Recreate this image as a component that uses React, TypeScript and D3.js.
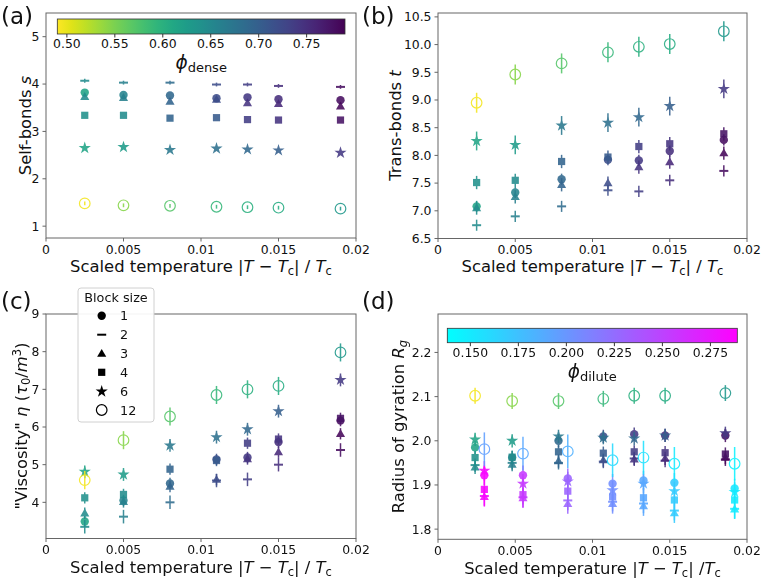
import React from 'react';
import * as d3 from 'd3';

// ---------- data ----------
const BLOCK_SIZES = ['1', '2', '3', '4', '6', '12'];
const X_AC = [0.0025, 0.005, 0.008, 0.011, 0.013, 0.015, 0.019];
const X_B = [0.0025, 0.005, 0.008, 0.011, 0.013, 0.015, 0.0185];
const X_D_DENSE = [0.0024, 0.0048, 0.0078, 0.0107, 0.0127, 0.0147, 0.0186];
const X_D_DILUTE = [0.003, 0.0055, 0.0084, 0.0113, 0.0133, 0.0153, 0.0192];

// rows = block sizes 1,2,3,4,6,12
const SELF_BONDS = [
  [3.82, 3.77, 3.76, 3.70, 3.72, 3.68, 3.66],
  [4.07, 4.03, 4.03, 3.99, 3.99, 3.96, 3.94],
  [3.73, 3.71, 3.63, 3.67, 3.60, 3.58, 3.53],
  [3.34, 3.34, 3.28, 3.29, 3.25, 3.24, 3.24],
  [2.65, 2.67, 2.61, 2.64, 2.62, 2.60, 2.55],
  [1.48, 1.44, 1.43, 1.41, 1.40, 1.39, 1.37],
];
const TRANS_BONDS = [
  [7.08, 7.33, 7.57, 7.92, 7.91, 8.08, 8.28],
  [6.74, 6.90, 7.08, 7.37, 7.35, 7.55, 7.72],
  [7.05, 7.25, 7.47, 7.50, 7.79, 7.88, 8.04],
  [7.51, 7.55, 7.89, 7.97, 8.16, 8.21, 8.39],
  [8.26, 8.19, 8.54, 8.59, 8.69, 8.89, 9.20],
  [8.95, 9.46, 9.66, 9.86, 9.96, 10.01, 10.24],
];
const VISCOSITY = [
  [3.49, 4.05, 4.50, 5.14, 5.19, 5.60, 6.17],
  [3.35, 3.62, 4.00, 4.58, 4.61, 5.00, 5.39],
  [3.71, 4.01, 4.42, 4.60, 5.15, 5.33, 5.82],
  [4.12, 4.21, 4.88, 5.11, 5.57, 5.68, 6.23],
  [4.81, 4.74, 5.51, 5.73, 5.94, 6.42, 7.25],
  [4.59, 5.65, 6.28, 6.85, 7.00, 7.09, 7.98],
];
const RG_DENSE = [
  [1.985, 1.962, 2.000, 2.010, 2.015, 2.012, 2.012],
  [1.945, 1.950, 1.950, 1.953, 1.960, 1.955, 1.958],
  [1.940, 1.946, 1.954, 1.956, 1.958, 1.960, 1.962],
  [1.962, 1.963, 1.975, 1.972, 1.975, 1.973, 1.970],
  [2.003, 2.000, 2.010, 2.007, 2.005, 2.012, 2.017],
  [2.102, 2.090, 2.090, 2.095, 2.102, 2.102, 2.108],
];
const RG_DILUTE = [
  [1.922, 1.922, 1.915, 1.903, 1.910, 1.905, 1.892],
  [1.875, 1.872, 1.865, 1.862, 1.858, 1.842, 1.846],
  [1.873, 1.870, 1.857, 1.857, 1.852, 1.836, 1.845],
  [1.890, 1.878, 1.886, 1.873, 1.871, 1.866, 1.866],
  [1.932, 1.903, 1.908, 1.888, 1.903, 1.886, 1.884],
  [1.981, 1.971, 1.976, 1.956, 1.962, 1.948, 1.948],
];
const PHI_DENSE = [
  [0.615, 0.655, 0.69, 0.72, 0.74, 0.75, 0.78],
  [0.645, 0.66, 0.685, 0.72, 0.735, 0.75, 0.78],
  [0.645, 0.66, 0.695, 0.72, 0.745, 0.755, 0.785],
  [0.64, 0.645, 0.695, 0.705, 0.735, 0.745, 0.775],
  [0.615, 0.625, 0.67, 0.68, 0.69, 0.70, 0.74],
  [0.495, 0.545, 0.57, 0.59, 0.60, 0.605, 0.63],
];
const PHI_DILUTE = [
  [0.285, 0.255, 0.23, 0.205, 0.19, 0.17, 0.152],
  [0.285, 0.255, 0.23, 0.205, 0.19, 0.168, 0.15],
  [0.285, 0.255, 0.23, 0.205, 0.19, 0.168, 0.15],
  [0.285, 0.255, 0.23, 0.205, 0.19, 0.168, 0.15],
  [0.285, 0.255, 0.23, 0.205, 0.19, 0.168, 0.15],
  [0.195, 0.19, 0.185, 0.16, 0.155, 0.15, 0.145],
];
const ERR_A = [0.03, 0.04, 0.03, 0.03, 0.03, 0.04];
const ERR_B = [0.1, 0.1, 0.12, 0.12, 0.17, 0.18];
const ERR_C = [0.15, 0.18, 0.15, 0.15, 0.17, 0.24];
const ERR_D_DENSE = [0.015, 0.015, 0.015, 0.015, 0.015, 0.018];
const ERR_D_DILUTE = [0.022, 0.022, 0.022, 0.022, 0.022, 0.038];

const X_TICKS = [0, 0.005, 0.01, 0.015, 0.02];
const X_TICK_LABELS = ['0', '0.005', '0.01', '0.015', '0.02'];
const Y_TICKS_A = [1, 2, 3, 4, 5];
const Y_TICKS_B = [6.5, 7.0, 7.5, 8.0, 8.5, 9.0, 9.5, 10.0, 10.5];
const Y_TICKS_C = [4, 5, 6, 7, 8, 9];
const Y_TICKS_D = [1.8, 1.9, 2.0, 2.1, 2.2];
const CB_DENSE_TICKS = [0.5, 0.55, 0.6, 0.65, 0.7, 0.75];
const CB_DILUTE_TICKS = [0.15, 0.175, 0.2, 0.225, 0.25, 0.275];
const DENSE_RANGE: [number, number] = [0.49, 0.79];
const DILUTE_RANGE: [number, number] = [0.138, 0.289];

// ---------- styling ----------
const FONT = 'DejaVu Sans, Verdana, sans-serif';
const AXIS_COLOR = '#666';
const TEXT = '#111';
const LABEL_SIZE = 16.4;
const SUB_SIZE = 11.5;

const denseColor = (v: number) => {
  const t = (DENSE_RANGE[1] - v) / (DENSE_RANGE[1] - DENSE_RANGE[0]);
  return d3.interpolateViridis(Math.max(0, Math.min(1, t)));
};
const coolColor = (v: number) => {
  const t = Math.max(0, Math.min(1, (v - DILUTE_RANGE[0]) / (DILUTE_RANGE[1] - DILUTE_RANGE[0])));
  return d3.rgb(255 * t, 255 * (1 - t), 255).formatHex();
};

const PATHS = {
  circle: d3.symbol().type(d3.symbolCircle).size(55)() as string,
  square: d3.symbol().type(d3.symbolSquare).size(52)() as string,
  tri: d3.symbol().type(d3.symbolTriangle).size(36)() as string,
  star: d3.symbol().type(d3.symbolStar).size(46)() as string,
};

function Marker({ b, x, y, color }: { b: number; x: number; y: number; color: string }) {
  const tr = `translate(${x},${y})`;
  if (b === 0) return <path d={PATHS.circle} transform={tr} fill={color} />;
  if (b === 1) return <line x1={x - 4.5} x2={x + 4.5} y1={y} y2={y} stroke={color} strokeWidth={2} />;
  if (b === 2) return <path d={PATHS.tri} transform={`translate(${x},${y + 0.5})`} fill={color} />;
  if (b === 3) return <path d={PATHS.square} transform={tr} fill={color} />;
  if (b === 4) return <path d={PATHS.star} transform={tr} fill={color} />;
  return <circle cx={x} cy={y} r={5.3} fill="none" stroke={color} strokeWidth={1.2} />;
}

function Series({ xs, ys, errs, colors, b, xS, yS }: any) {
  return (
    <g opacity={0.88}>
      {xs.map((xv: number, j: number) => {
        const cx = xS(xv);
        const cy = yS(ys[j]);
        const c = colors[j];
        return (
          <g key={j}>
            <line x1={cx} x2={cx} y1={yS(ys[j] - errs)} y2={yS(ys[j] + errs)} stroke={c} strokeWidth={1.5} />
            <Marker b={b} x={cx} y={cy} color={c} />
          </g>
        );
      })}
    </g>
  );
}

function Axes({ left, top, width, height, yDomain, yTicks, yFmt, children }: any) {
  const xS = d3.scaleLinear().domain([0, 0.02]).range([left, left + width]);
  const yS = d3.scaleLinear().domain(yDomain).range([top + height, top]);
  const bottom = top + height;
  return (
    <g>
      <rect x={left} y={top} width={width} height={height} fill="white" />
      {children(xS, yS)}
      <rect x={left} y={top} width={width} height={height} fill="none" stroke={AXIS_COLOR} strokeWidth={1} />
      {X_TICKS.map((t, i) => (
        <g key={i}>
          <line x1={xS(t)} x2={xS(t)} y1={bottom} y2={bottom + 3.5} stroke={AXIS_COLOR} />
          <text x={xS(t)} y={bottom + 15.5} textAnchor="middle" fontSize={12.4} fill={TEXT} fontFamily={FONT}>
            {X_TICK_LABELS[i]}
          </text>
        </g>
      ))}
      {yTicks.map((t: number, i: number) => (
        <g key={i}>
          <line x1={left - 3.5} x2={left} y1={yS(t)} y2={yS(t)} stroke={AXIS_COLOR} />
          <text x={left - 6.5} y={yS(t) + 4.4} textAnchor="end" fontSize={12.4} fill={TEXT} fontFamily={FONT}>
            {yFmt(t)}
          </text>
        </g>
      ))}
    </g>
  );
}

function XLabel({ cx, y, spaced }: { cx: number; y: number; spaced: boolean }) {
  return (
    <text x={cx} y={y} textAnchor="middle" fontSize={LABEL_SIZE} fill={TEXT} fontFamily={FONT}>
      Scaled temperature |<tspan fontStyle="italic">T</tspan> − <tspan fontStyle="italic">T</tspan>
      <tspan dy={3.3} fontSize={SUB_SIZE}>c</tspan>
      <tspan dy={-3.3}>|{spaced ? ' / ' : ' /'}</tspan>
      <tspan fontStyle="italic">T</tspan>
      <tspan dy={3.3} fontSize={SUB_SIZE}>c</tspan>
    </text>
  );
}

function Colorbar({ x, y, w, h, range, ticks, fmt, colorFn, id, label }: any) {
  const s = d3.scaleLinear().domain(range).range([x, x + w]);
  const stops = d3.range(0, 21).map((i) => i / 20);
  return (
    <g>
      <defs>
        <linearGradient id={id} x1="0" x2="1" y1="0" y2="0">
          {stops.map((t) => (
            <stop key={t} offset={t} stopColor={colorFn(range[0] + t * (range[1] - range[0]))} />
          ))}
        </linearGradient>
      </defs>
      <rect x={x} y={y} width={w} height={h} fill={`url(#${id})`} stroke="#333" strokeWidth={0.8} />
      {ticks.map((t: number, i: number) => (
        <g key={i}>
          <line x1={s(t)} x2={s(t)} y1={y + h} y2={y + h + 3.5} stroke="#333" />
          <text x={s(t)} y={y + h + 14.4} textAnchor="middle" fontSize={12.4} fill={TEXT} fontFamily={FONT}>
            {fmt(t)}
          </text>
        </g>
      ))}
      <text x={x + w / 2} y={label.y} textAnchor="middle" fontSize={18.5} fill={TEXT} fontFamily={FONT}>
        <tspan fontStyle="italic">ϕ</tspan>
        <tspan dy={3.5} fontSize={13}>{label.sub}</tspan>
      </text>
    </g>
  );
}

function Legend() {
  const x0 = 78, y0 = 288, w = 76, h = 134;
  const rows = [315.7, 334.7, 353.7, 372.3, 391.5, 410];
  return (
    <g>
      <rect x={x0} y={y0} width={w} height={h} rx={3} fill="white" fillOpacity={0.92} stroke="#d0d0d0" />
      <text x={x0 + w / 2} y={301.5} textAnchor="middle" fontSize={12.8} fill={TEXT} fontFamily={FONT}>
        Block size
      </text>
      {BLOCK_SIZES.map((lab, i) => (
        <g key={i}>
          <Marker b={i} x={101.7} y={rows[i]} color="black" />
          <text x={120} y={rows[i] + 4.6} fontSize={12.8} fill={TEXT} fontFamily={FONT}>
            {lab}
          </text>
        </g>
      ))}
    </g>
  );
}

export default function App() {
  const A = { left: 46, top: 13, width: 310, height: 225 };
  const B = { left: 438, top: 13, width: 309, height: 225.5 };
  const C = { left: 46, top: 314, width: 310, height: 224.5 };
  const D = { left: 438, top: 314, width: 309, height: 225.3 };
  return (
    <svg width={764} height={580} style={{ position: 'absolute', left: 0, top: 0, background: 'white' }} fontFamily={FONT}>
      <rect x={0} y={0} width={764} height={580} fill="white" />
      {/* (a) */}
      <Axes {...A} yDomain={[0.75, 5.5]} yTicks={Y_TICKS_A} yFmt={(v: number) => String(v)}>
        {(xS: any, yS: any) =>
          SELF_BONDS.map((ys, b) => (
            <Series key={b} b={b} xs={X_AC} ys={ys} errs={ERR_A[b]} colors={PHI_DENSE[b].map(denseColor)} xS={xS} yS={yS} />
          ))
        }
      </Axes>
      <Colorbar x={57.3} y={19} w={287.7} h={15} range={DENSE_RANGE} ticks={CB_DENSE_TICKS}
        fmt={(v: number) => v.toFixed(2)} colorFn={denseColor} id="cbDense" label={{ y: 68.5, sub: 'dense' }} />
      <text x={31} y={125.5} transform="rotate(-90,31,125.5)" textAnchor="middle" fontSize={LABEL_SIZE} fill={TEXT}>
        Self-bonds <tspan fontStyle="italic">s</tspan>
      </text>
      <XLabel cx={201} y={272} spaced={true} />

      {/* (b) */}
      <Axes {...B} yDomain={[6.5, 10.57]} yTicks={Y_TICKS_B} yFmt={(v: number) => v.toFixed(1)}>
        {(xS: any, yS: any) =>
          TRANS_BONDS.map((ys, b) => (
            <Series key={b} b={b} xs={X_B} ys={ys} errs={ERR_B[b]} colors={PHI_DENSE[b].map(denseColor)} xS={xS} yS={yS} />
          ))
        }
      </Axes>
      <text x={400.5} y={125.5} transform="rotate(-90,400.5,125.5)" textAnchor="middle" fontSize={LABEL_SIZE} fill={TEXT}>
        Trans-bonds <tspan fontStyle="italic">t</tspan>
      </text>
      <XLabel cx={592.5} y={272} spaced={true} />

      {/* (c) */}
      <Axes {...C} yDomain={[3.04, 9]} yTicks={Y_TICKS_C} yFmt={(v: number) => String(v)}>
        {(xS: any, yS: any) =>
          VISCOSITY.map((ys, b) => (
            <Series key={b} b={b} xs={X_AC} ys={ys} errs={ERR_C[b]} colors={PHI_DENSE[b].map(denseColor)} xS={xS} yS={yS} />
          ))
        }
      </Axes>
      <Legend />
      <text x={27} y={426} transform="rotate(-90,27,426)" textAnchor="middle" fontSize={LABEL_SIZE} fill={TEXT}>
        "Viscosity" <tspan fontStyle="italic">η</tspan> (<tspan fontStyle="italic">τ</tspan>
        <tspan dy={3.3} fontSize={SUB_SIZE}>0</tspan>
        <tspan dy={-3.3}>/</tspan>
        <tspan fontStyle="italic">m</tspan>
        <tspan dy={-6} fontSize={SUB_SIZE}>3</tspan>
        <tspan dy={6}>)</tspan>
      </text>
      <XLabel cx={201} y={573} spaced={true} />

      {/* (d) */}
      <Axes {...D} yDomain={[1.777, 2.287]} yTicks={Y_TICKS_D} yFmt={(v: number) => v.toFixed(1)}>
        {(xS: any, yS: any) => (
          <g>
            {RG_DENSE.map((ys, b) => (
              <Series key={'d' + b} b={b} xs={X_D_DENSE} ys={ys} errs={ERR_D_DENSE[b]} colors={PHI_DENSE[b].map(denseColor)} xS={xS} yS={yS} />
            ))}
            {RG_DILUTE.map((ys, b) => (
              <Series key={'l' + b} b={b} xs={X_D_DILUTE} ys={ys} errs={ERR_D_DILUTE[b]} colors={PHI_DILUTE[b].map(coolColor)} xS={xS} yS={yS} />
            ))}
          </g>
        )}
      </Axes>
      <Colorbar x={447.3} y={328.3} w={290} h={14.4} range={DILUTE_RANGE} ticks={CB_DILUTE_TICKS}
        fmt={(v: number) => v.toFixed(3)} colorFn={coolColor} id="cbDilute" label={{ y: 377.5, sub: 'dilute' }} />
      <text x={404} y={426.6} transform="rotate(-90,404,426.6)" textAnchor="middle" fontSize={LABEL_SIZE} fill={TEXT}>
        Radius of gyration <tspan fontStyle="italic">R</tspan>
        <tspan dy={3.3} fontSize={SUB_SIZE} fontStyle="italic">g</tspan>
      </text>
      <XLabel cx={592.5} y={573.5} spaced={false} />

      {/* panel letters */}
      <text x={1} y={23.5} fontSize={23} fill={TEXT}>(a)</text>
      <text x={362} y={23.5} fontSize={23} fill={TEXT}>(b)</text>
      <text x={1} y={309} fontSize={23} fill={TEXT}>(c)</text>
      <text x={362} y={309} fontSize={23} fill={TEXT}>(d)</text>
    </svg>
  );
}
